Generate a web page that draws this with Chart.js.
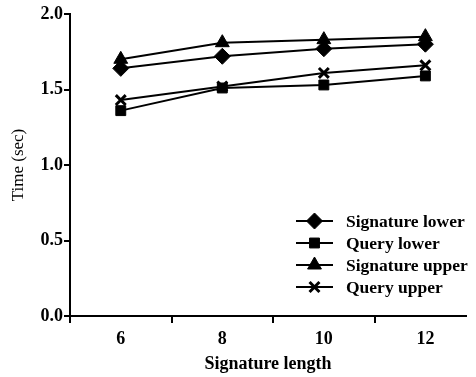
<!DOCTYPE html>
<html>
<head>
<meta charset="utf-8">
<script src="https://cdn.jsdelivr.net/npm/chart.js@4/dist/chart.umd.min.js"></script>
<style>
  html, body { margin: 0; padding: 0; background: #fff; }
  #wrap { width: 476px; height: 377px; }
</style>
</head>
<body>
<div id="wrap"><canvas id="timeChart"></canvas></div>
<script>
// values
const signatureLengths = [6, 8, 10, 12];
const signatureLower = [1.64, 1.72, 1.77, 1.80];
const queryLower = [1.36, 1.51, 1.53, 1.59];
const signatureUpper = [1.70, 1.81, 1.83, 1.85];
const queryUpper = [1.43, 1.52, 1.61, 1.66];
const yTicks = [0, 0.5, 1.0, 1.5, 2.0];

const serif = '"Liberation Serif", "Times New Roman", serif';

const toPoints = arr => arr.map((v, i) => ({ x: signatureLengths[i], y: v }));

const makeSet = (label, values, style, radius) => ({
    label: label,
    data: toPoints(values),
    borderColor: '#000',
    backgroundColor: '#000',
    borderWidth: 2,
    pointStyle: style,
    pointRadius: radius,
    pointBorderWidth: style === 'crossRot' ? 3 : 1,
    pointBorderColor: '#000',
    pointBackgroundColor: '#000',
    tension: 0
});

// legend drawn inside the plot: short line with the marker on it
const insideLegend = {
    id: 'insideLegend',
    afterDraw(chart) {
        const ctx = chart.ctx;
        const x0 = 296, x1 = 333, tx = 346;
        let y = 221;
        ctx.save();
        chart.data.datasets.forEach(ds => {
            ctx.strokeStyle = '#000';
            ctx.lineWidth = 2;
            ctx.beginPath();
            ctx.moveTo(x0, y);
            ctx.lineTo(x1, y);
            ctx.stroke();
            ctx.lineWidth = ds.pointBorderWidth;
            ctx.fillStyle = '#000';
            Chart.helpers.drawPoint(ctx, {
                pointStyle: ds.pointStyle,
                radius: ds.pointRadius,
                borderWidth: ds.pointBorderWidth
            }, (x0 + x1) / 2, y);
            ctx.fillStyle = '#000';
            ctx.font = 'bold 17.5px ' + serif;
            ctx.textBaseline = 'middle';
            ctx.textAlign = 'left';
            ctx.fillText(ds.label, tx, y + 1);
            y += 22;
        });
        ctx.restore();
    }
};

new Chart(document.getElementById('timeChart'), {
    type: 'line',
    data: {
        datasets: [
            makeSet('Signature lower', signatureLower, 'rectRot', 8),
            makeSet('Query lower', queryLower, 'rect', 7),
            makeSet('Signature upper', signatureUpper, 'triangle', 8),
            makeSet('Query upper', queryUpper, 'crossRot', 7)
        ]
    },
    options: {
        responsive: true,
        maintainAspectRatio: false,
        animation: false,
        layout: { padding: { top: 14, right: 10, left: 0, bottom: 2 } },
        plugins: {
            legend: { display: false },
            tooltip: { enabled: false }
        },
        scales: {
            x: {
                type: 'linear',
                min: 5,
                max: 12.8,
                afterBuildTicks: axis => {
                    axis.ticks = [5, 6, 7, 8, 9, 10, 11, 12].map(v => ({ value: v }));
                },
                border: { color: '#000', width: 2 },
                grid: {
                    drawOnChartArea: false,
                    tickLength: 7,
                    lineWidth: 2,
                    color: c => (c.tick && c.tick.value % 2 === 1) ? '#000' : 'rgba(0,0,0,0)'
                },
                ticks: {
                    color: '#000',
                    font: { family: serif, size: 18, weight: 'bold' },
                    padding: 6,
                    maxRotation: 0,
                    autoSkip: false,
                    callback: v => (v % 2 === 0 ? String(v) : '')
                },
                title: {
                    display: true,
                    text: 'Signature length',
                    color: '#000',
                    font: { family: serif, size: 18, weight: 'bold' },
                    padding: { top: 0, bottom: 0 }
                },
                afterFit: axis => { axis.height = 59; }
            },
            y: {
                min: 0,
                max: 2,
                afterBuildTicks: axis => {
                    axis.ticks = yTicks.map(v => ({ value: v }));
                },
                border: { color: '#000', width: 2 },
                grid: {
                    drawOnChartArea: false,
                    tickLength: 6,
                    lineWidth: 2,
                    color: '#000'
                },
                ticks: {
                    color: '#000',
                    font: { family: serif, size: 18, weight: 'bold' },
                    padding: 1,
                    callback: v => Number(v).toFixed(1)
                },
                title: {
                    display: true,
                    text: 'Time (sec)',
                    color: '#000',
                    font: { family: serif, size: 17 },
                    padding: { top: 8, bottom: 4 }
                },
                afterFit: axis => { axis.width = 70; }
            }
        }
    },
    plugins: [insideLegend]
});
</script>
</body>
</html>
